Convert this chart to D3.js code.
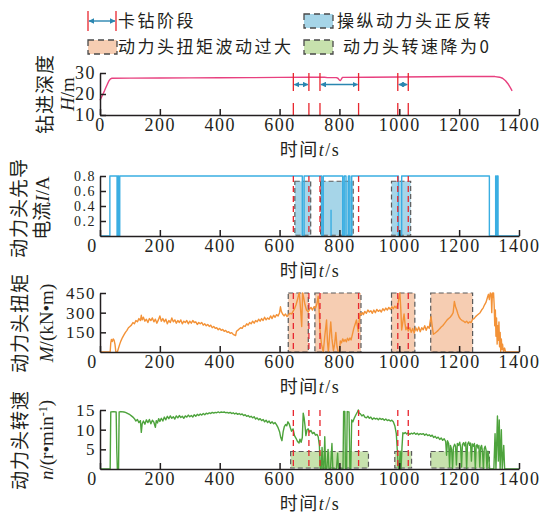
<!DOCTYPE html>
<html>
<head>
<meta charset="utf-8">
<script src="https://cdn.jsdelivr.net/npm/d3@7"></script>
<style>
body { margin: 0; background: #fff; }
svg text { fill: #231f20; font-family: "Liberation Serif", "Noto Sans CJK SC", serif; }
</style>
</head>
<body>
<div id="chart"></div>
<script>
(function(d3) {
'use strict';

// ---- data ----
var xTicks = [0, 200, 400, 600, 800, 1000, 1200, 1400];
var depthTicks = [10, 20, 30];
var currentTicks = [0.2, 0.4, 0.6, 0.8];
var torqueTicks = [150, 300, 450];
var speedTicks = [5, 10, 15];

// stuck-drill stages (red lines), seconds
var stuck = [[646, 698], [735, 864], [995, 1030]];
// shaded events
var reverseBoxes = [[651, 704], [737, 846], [974, 1038]];
var torqueBoxes = [[629, 696], [718, 872], [974, 1052], [1105, 1245]];
var speedBoxes = [[637, 897], [985, 1041], [1105, 1301]];

var depth = [[0,17],[5,18.5],[10,20],[15,21.5],[20,23.2],[25,24.8],[30,26.3],[35,27.2],[40,27.5],
  [100,27.55],[200,27.6],[300,27.7],[400,27.75],[500,27.8],[600,27.9],[700,27.95],[750,27.95],
  [760,27.8],[790,27.8],[795,27.5],[800,26.6],[803,26.4],[806,27.0],[810,27.9],[900,28.0],
  [1000,28.1],[1100,28.2],[1200,28.3],[1300,28.4],[1320,28.3],[1335,28.0],[1345,27.5],
  [1355,26.3],[1365,24.5],[1372,22.8],[1377,21.5]];

var current = [[0,0],[33,0.8],[57,0],[59,0.8],[63,0],[66,0.8],[676,0],[682,0.8],[741,0],[746,0.8],
  [811,0],[816,0.8],[822,0],[830,0.8],[835,0],[841,0.8],[997,0],[1008,0.8],[1301,0],
  [1322,0.8],[1324,0],[1327,0.8],[1330,0],[1400,0]];
var currentPulse = [[772, 0.35]];

var torque = [[0,0],[34,0],[36,70],[38,95],[41,80],[44,100],[47,90],[50,60],[53,0],[58,0],[62,30],
  [66,60],[70,85],[75,110],[80,130],[85,150],[90,165],[95,185],[100,195],[105,205],[110,225],
  [115,215],[120,240],[125,230],[130,255],[135,240],[138,280],[141,245],[145,265],[150,235],
  [155,250],[160,225],[165,255],[170,240],[175,260],[180,230],[185,250],[190,220],[195,245],
  [200,275],[205,235],[210,255],[215,230],[220,250],[225,215],[230,240],[235,225],[240,260],
  [245,230],[250,245],[255,220],[260,240],[265,225],[270,245],[275,215],[280,235],[285,225],
  [290,240],[295,215],[300,235],[305,220],[310,240],[315,225],[320,230],[325,210],[330,225],
  [335,215],[340,225],[345,205],[350,215],[355,200],[360,210],[365,195],[370,205],[375,185],
  [380,195],[385,180],[390,185],[395,170],[400,180],[405,165],[410,172],[415,158],[420,165],
  [425,150],[430,155],[435,142],[440,148],[445,135],[450,128],[453,125],[456,158],[460,165],
  [465,175],[470,185],[475,180],[480,200],[485,195],[490,215],[495,205],[500,225],[505,215],
  [510,235],[515,220],[520,240],[525,230],[530,250],[535,235],[540,255],[545,240],[550,265],
  [555,245],[560,260],[565,250],[570,275],[575,255],[580,280],[585,265],[590,285],[595,275],
  [600,300],[603,345],[606,310],[610,290],[615,275],[620,290],[625,270],[630,285],[635,295],
  [640,290],[645,310],[650,330],[655,360],[660,400],[664,440],[666,450],[670,330],[674,195],
  [677,450],[680,420],[685,360],[690,320],[696,305],[700,325],[705,340],[710,320],[715,345],
  [720,335],[725,370],[729,425],[732,330],[735,168],[740,60],[746,0],[751,120],[757,244],
  [760,80],[763,0],[767,120],[771,230],[775,100],[780,10],[784,60],[788,150],[792,40],[796,0],
  [800,0],[803,85],[807,70],[811,100],[815,80],[819,95],[823,78],[827,105],[831,88],[835,107],
  [839,92],[843,130],[848,180],[853,215],[857,244],[860,200],[863,155],[866,240],[869,297],
  [873,285],[877,300],[880,285],[885,310],[890,295],[895,320],[900,305],[905,315],[910,295],
  [915,320],[920,300],[925,325],[930,310],[935,320],[940,305],[945,330],[950,315],[955,335],
  [960,320],[965,340],[970,325],[975,345],[980,330],[985,350],[990,335],[995,360],[998,400],
  [1002,450],[1005,330],[1008,168],[1012,230],[1016,290],[1019,220],[1022,170],[1026,190],
  [1030,160],[1035,185],[1040,150],[1045,180],[1050,145],[1055,185],[1060,160],[1065,190],
  [1070,155],[1075,185],[1080,170],[1085,200],[1090,165],[1095,195],[1100,180],[1103,230],
  [1106,270],[1110,200],[1114,135],[1120,145],[1125,155],[1130,165],[1135,178],[1140,190],
  [1145,200],[1150,215],[1155,230],[1160,245],[1165,255],[1170,265],[1175,280],[1180,300],
  [1184,385],[1188,345],[1192,320],[1196,290],[1200,265],[1205,250],[1210,240],[1215,235],
  [1220,225],[1225,235],[1230,220],[1235,230],[1240,225],[1245,250],[1250,255],[1255,270],
  [1260,280],[1265,290],[1270,300],[1275,320],[1280,335],[1285,360],[1290,380],[1295,420],
  [1298,440],[1301,400],[1304,450],[1307,440],[1309,300],[1311,450],[1313,420],[1315,450],
  [1317,360],[1319,200],[1321,320],[1323,120],[1325,260],[1327,60],[1329,200],[1331,90],
  [1333,230],[1335,40],[1337,150],[1339,0],[1341,100],[1343,20],[1345,60],[1348,0],[1352,30],
  [1355,0],[1400,0]];

var speed = [[0,0],[34,0],[36,14.5],[45,14.6],[54,14.5],[56,5],[58,0],[62,0],[64,14.5],[70,14.6],
  [80,14.5],[85,14.4],[90,14.2],[95,14.0],[100,13.8],[105,13.5],[110,13.2],[115,12.8],[120,12.2],
  [125,12.6],[130,11.8],[135,12.3],[138,9.3],[141,11.5],[145,12.2],[150,11.4],[155,12.5],
  [160,11.8],[165,12.6],[170,11.5],[175,12.4],[180,11.9],[185,10.6],[188,12.3],[192,11.7],
  [196,12.8],[200,12.1],[205,12.9],[210,12.2],[215,13.2],[220,12.5],[225,13.4],[230,12.8],
  [235,13.5],[240,12.9],[245,13.3],[250,12.7],[255,13.5],[260,13.0],[265,13.6],[270,13.1],
  [275,13.4],[280,12.9],[285,13.5],[290,13.2],[295,13.7],[300,13.3],[305,13.6],[310,13.2],
  [315,13.8],[320,13.4],[325,13.9],[330,13.6],[335,14.0],[340,13.7],[345,14.1],[350,13.8],
  [355,14.2],[360,14.0],[365,14.3],[370,14.1],[375,14.4],[380,14.2],[385,14.4],[390,14.3],
  [395,14.5],[400,14.3],[405,14.5],[410,14.4],[415,14.5],[420,14.3],[425,14.4],[430,14.2],
  [435,14.4],[440,14.1],[445,14.3],[450,14.0],[455,14.2],[460,13.9],[465,14.1],[470,13.8],
  [475,14.0],[480,13.6],[485,13.8],[490,13.4],[495,13.6],[500,13.2],[505,13.4],[510,13.0],
  [515,13.3],[520,12.7],[525,13.0],[530,12.5],[535,12.8],[540,12.3],[545,12.6],[550,12.0],
  [555,12.4],[560,11.8],[565,12.2],[570,11.6],[575,12.0],[580,11.5],[585,11.8],[590,11.2],
  [595,10.5],[600,9.5],[604,8.0],[608,7.2],[612,9.5],[616,10.8],[620,11.3],[624,11.0],
  [628,12.0],[632,11.5],[636,10.5],[640,9.6],[645,10.2],[650,8.5],[655,7.8],[660,7.0],
  [665,6.6],[668,7.6],[672,6.8],[676,8.0],[679,14.2],[682,13.0],[685,11.0],[688,8.5],[692,10.0],
  [696,10.2],[700,9.4],[705,9.8],[710,9.0],[715,9.3],[720,8.6],[725,8.8],[729,8.2],[733,6.0],
  [736,0],[739,0],[742,5.5],[745,0],[748,0],[751,8.2],[754,0],[758,0],[762,5.0],[765,0],
  [770,0],[775,6.5],[778,0],[790,0],[794,4.0],[797,0],[812,0],[814,14.6],[818,14.6],[820,0],
  [824,0],[826,14.6],[832,14.5],[835,0],[838,0],[841,12.5],[845,12.0],[850,13.0],[855,13.8],
  [860,14.5],[863,15.0],[866,14.2],[870,14.0],[875,13.5],[880,13.8],[885,13.2],[890,13.0],
  [895,13.4],[900,12.9],[905,13.2],[910,12.6],[915,13.0],[920,12.7],[925,12.9],[930,12.5],
  [935,12.9],[940,12.6],[945,12.8],[950,12.4],[955,12.7],[960,12.3],[965,12.5],[970,12.2],
  [975,12.4],[980,12.0],[985,11.0],[990,9.0],[994,4.0],[997,0],[1000,0],[1003,4.5],[1006,0],
  [1009,5.5],[1012,9.2],[1016,9.0],[1020,9.3],[1025,8.9],[1030,9.2],[1035,8.8],[1040,9.1],
  [1045,8.9],[1050,9.2],[1055,8.8],[1060,9.1],[1065,8.7],[1070,9.0],[1075,8.8],[1080,9.0],
  [1085,8.6],[1090,8.9],[1095,8.5],[1100,8.7],[1105,8.3],[1110,8.6],[1115,8.0],[1120,8.3],
  [1125,7.8],[1130,8.1],[1135,7.5],[1140,7.9],[1145,7.3],[1150,7.7],[1155,7.0],[1158,3.5],
  [1161,7.2],[1165,6.5],[1168,0.5],[1171,6.0],[1175,5.0],[1178,0],[1181,5.5],[1185,6.3],
  [1188,5.8],[1191,1.0],[1194,6.5],[1198,6.0],[1202,6.8],[1205,5.5],[1208,0.5],[1211,6.2],
  [1215,6.7],[1218,5.9],[1222,6.8],[1225,0],[1228,6.3],[1232,6.9],[1235,6.0],[1238,6.6],
  [1241,2.0],[1244,6.4],[1248,5.8],[1251,6.5],[1254,0],[1257,5.9],[1260,6.2],[1263,5.3],
  [1266,6.0],[1269,0.5],[1272,5.5],[1275,6.0],[1278,4.5],[1281,0],[1284,5.2],[1287,5.8],
  [1290,4.8],[1293,0],[1296,4.5],[1299,3.0],[1302,0],[1316,0],[1320,9.0],[1323,0],[1328,13.5],
  [1331,2.0],[1334,12.5],[1337,0],[1341,10.0],[1344,0],[1349,6.0],[1352,0],[1400,0]];

var legendLabels = ['卡钻阶段', '操纵动力头正反转', '动力头扭矩波动过大', '动力头转速降为0'];

// ---- layout ----
var width = 554, height = 519;
var red = '#e8262e', arrowColor = '#2a86b0';

var svg = d3.select('#chart').append('svg')
  .attr('width', width)
  .attr('height', height);

var defs = svg.append('defs');
defs.append('marker')
  .attr('id', 'arr')
  .attr('viewBox', '0 0 10 10')
  .attr('refX', 9).attr('refY', 5)
  .attr('markerWidth', 4).attr('markerHeight', 4)
  .attr('orient', 'auto-start-reverse')
  .append('path')
  .attr('d', 'M0,0L10,5L0,10z')
  .attr('fill', arrowColor);

var x = d3.scaleLinear().domain([0, 1400]).range([100, 519]);

var panels = [
  { top: 73, bottom: 115, domain: [10, 30], ticks: depthTicks, fmt: d3.format('d'), yFont: 18,
    data: depth, color: '#e8407f', curve: d3.curveLinear,
    title1: '钻进深度', title2: [['H', true], ['/m']], tx1: 45, tx2: 67, cy: 94,
    redDash: '18,12', arrows: true, zeroShift: 0 },
  { top: 176, bottom: 236, domain: [0, 0.8], ticks: currentTicks, fmt: d3.format('.1f'), yFont: 14,
    data: current, color: '#3aaee2', curve: d3.curveStepAfter,
    boxes: reverseBoxes, boxLo: 0.01, boxHi: 0.73, boxFill: '#a6d5e8',
    title1: '动力头先导', title2: [['电流'], ['I', true], ['/A']], tx1: 19, tx2: 42, cy: 208,
    redDash: '6,4', zeroShift: -8, pulses: currentPulse },
  { top: 293, bottom: 352, domain: [0, 450], ticks: torqueTicks, fmt: d3.format('d'), yFont: 17,
    data: torque, color: '#f39237', curve: d3.curveLinear,
    boxes: torqueBoxes, boxLo: 0, boxHi: 450, boxFill: '#f6cdb2',
    title1: '动力头扭矩', title2: [['M', true], ['/(kN•m)']], tx1: 20, tx2: 46, cy: 323,
    redDash: '6,4', zeroShift: -8 },
  { top: 410, bottom: 469, domain: [0, 15], ticks: speedTicks, fmt: d3.format('d'), yFont: 17,
    data: speed, color: '#4da33c', curve: d3.curveLinear,
    boxes: speedBoxes, boxLo: 0.25, boxHi: 4.45, boxFill: '#c7e1ad',
    title1: '动力头转速', title2: [['n', true], ['/(r•min'], ['-1', false, true], [')']], tx1: 20, tx2: 46, cy: 440,
    redDash: '6,4', zeroShift: -8 }
];

panels.forEach(function(p) {
  var y = d3.scaleLinear().domain(p.domain).range([p.bottom, p.top]);
  var g = svg.append('g');

  // shaded event boxes
  if (p.boxes) {
    g.selectAll('rect.box')
      .data(p.boxes)
      .enter()
      .append('rect')
      .attr('x', function(d) { return x(d[0]); })
      .attr('width', function(d) { return x(d[1]) - x(d[0]); })
      .attr('y', y(p.boxHi))
      .attr('height', y(p.boxLo) - y(p.boxHi))
      .attr('fill', p.boxFill)
      .attr('stroke', '#5a5a5a')
      .attr('stroke-width', 1.2)
      .attr('stroke-dasharray', '5,3');
  }

  var line = d3.line()
    .x(function(d) { return x(d[0]); })
    .y(function(d) { return y(d[1]); })
    .curve(p.curve);

  g.append('path')
    .datum(p.data)
    .attr('d', line)
    .attr('fill', 'none')
    .attr('stroke', p.color)
    .attr('stroke-width', 1.4)
    .attr('stroke-linejoin', 'round');

  if (p.pulses) {
    g.selectAll('line.pulse')
      .data(p.pulses)
      .enter()
      .append('line')
      .attr('x1', function(d) { return x(d[0]); })
      .attr('x2', function(d) { return x(d[0]); })
      .attr('y1', y(0))
      .attr('y2', function(d) { return y(d[1]); })
      .attr('stroke', p.color)
      .attr('stroke-width', 1.4);
  }

  // stuck stage boundaries
  var bounds = [];
  stuck.forEach(function(s) { bounds.push(s[0], s[1]); });
  g.selectAll('line.red')
    .data(bounds)
    .enter()
    .append('line')
    .attr('x1', function(d) { return x(d); })
    .attr('x2', function(d) { return x(d); })
    .attr('y1', p.top)
    .attr('y2', p.bottom)
    .attr('stroke', red)
    .attr('stroke-width', 1.3)
    .attr('stroke-dasharray', p.redDash);

  if (p.arrows) {
    g.selectAll('line.arrow')
      .data(stuck)
      .enter()
      .append('line')
      .attr('x1', function(d) { return x(d[0]) + 1; })
      .attr('x2', function(d) { return x(d[1]) - 1; })
      .attr('y1', y(24.5))
      .attr('y2', y(24.5))
      .attr('stroke', arrowColor)
      .attr('stroke-width', 1.4)
      .attr('marker-start', 'url(#arr)')
      .attr('marker-end', 'url(#arr)');
  }

  // axes
  var xAxis = g.append('g')
    .attr('transform', 'translate(0,' + p.bottom + ')')
    .call(d3.axisBottom(x).tickValues(xTicks).tickFormat(d3.format('d'))
      .tickSize(-6).tickSizeOuter(0).tickPadding(3));
  xAxis.selectAll('text')
    .attr('dx', function(d) { return d === 0 ? p.zeroShift : 0; })
    .style('font-size', '18px');

  var yAxis = g.append('g')
    .attr('transform', 'translate(' + x(0) + ',0)')
    .call(d3.axisLeft(y).tickValues(p.ticks).tickFormat(p.fmt).tickSize(-6).tickSizeOuter(0).tickPadding(4));
  yAxis.selectAll('text').style('font-size', p.yFont + 'px');

  [xAxis, yAxis].forEach(function(a) {
    a.select('.domain').attr('stroke', '#231f20').attr('stroke-width', 1.5);
    a.selectAll('.tick line').attr('stroke', '#231f20').attr('stroke-width', 1.5);
    a.selectAll('text')
      .attr('fill', '#231f20')
      .style('font-family', '"Liberation Serif", serif')
      .style('letter-spacing', '1.5px');
  });

  // x title
  var xt = g.append('text')
    .attr('x', 310)
    .attr('y', p.bottom + 35)
    .attr('dy', '0.35em')
    .attr('text-anchor', 'middle')
    .style('font-size', '18px')
    .style('letter-spacing', '1.5px');
  xt.append('tspan').text('时间').style('font-family', '"Noto Sans CJK SC", sans-serif');
  xt.append('tspan').text('t').style('font-style', 'italic');
  xt.append('tspan').text('/s');

  // y titles (two rotated lines)
  g.append('text')
    .attr('transform', 'translate(' + p.tx1 + ',' + p.cy + ') rotate(-90)')
    .attr('dy', '0.35em')
    .attr('text-anchor', 'middle')
    .style('font-family', '"Noto Sans CJK SC", sans-serif')
    .style('font-size', '19px')
    .style('letter-spacing', '1px')
    .text(p.title1);

  var t2 = g.append('text')
    .attr('transform', 'translate(' + p.tx2 + ',' + p.cy + ') rotate(-90)')
    .attr('dy', '0.35em')
    .attr('text-anchor', 'middle')
    .style('font-size', '19px');
  p.title2.forEach(function(part) {
    var s = t2.append('tspan').text(part[0]);
    if (part[1]) s.style('font-style', 'italic');
    if (part[2]) s.attr('dy', '-0.45em').style('font-size', '12px');
    else if (part[0] === ')') s.attr('dy', '0.27em');
  });
});

// ---- legend ----
var leg = svg.append('g').attr('class', 'legend');
var legPos = [[88, 21], [304, 21], [88, 47], [304, 47]];
var legText = [30, 33, 30, 39];
var legFill = [null, '#a6d5e8', '#f6cdb2', '#c7e1ad'];

legendLabels.forEach(function(label, i) {
  var lx = legPos[i][0], ly = legPos[i][1];
  if (i === 0) {
    leg.append('line').attr('x1', lx).attr('x2', lx).attr('y1', ly - 10).attr('y2', ly + 10)
      .attr('stroke', red).attr('stroke-width', 1.3);
    leg.append('line').attr('x1', lx + 28).attr('x2', lx + 28).attr('y1', ly - 10).attr('y2', ly + 10)
      .attr('stroke', red).attr('stroke-width', 1.3);
    leg.append('line').attr('x1', lx + 1).attr('x2', lx + 27).attr('y1', ly).attr('y2', ly)
      .attr('stroke', arrowColor).attr('stroke-width', 1.4)
      .attr('marker-start', 'url(#arr)').attr('marker-end', 'url(#arr)');
  } else {
    leg.append('rect')
      .attr('x', lx).attr('y', ly - 7)
      .attr('width', 29).attr('height', 14)
      .attr('fill', legFill[i])
      .attr('stroke', '#4a4a4a')
      .attr('stroke-width', 1.3)
      .attr('stroke-dasharray', '6,4');
  }
  leg.append('text')
    .attr('x', lx + legText[i])
    .attr('y', ly)
    .attr('dy', '0.35em')
    .style('font-family', '"Noto Sans CJK SC", sans-serif')
    .style('font-size', '17px')
    .style('letter-spacing', '2.5px')
    .text(label);
});

})(window.d3);
</script>
</body>
</html>
